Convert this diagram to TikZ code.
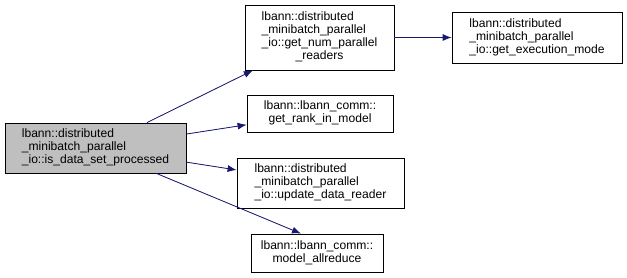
\documentclass[tikz,border=0pt]{standalone}
\usepackage{fontspec}
\setmainfont{Liberation Sans}
\usetikzlibrary{arrows.meta, positioning}
\definecolor{edgeblue}{HTML}{191970}
\definecolor{mainfill}{HTML}{BFBFBF}
% function label: left aligned rows, \crow centres one row
\newcommand{\fnlabel}[1]{\begin{tabular}{@{}l@{}}#1\end{tabular}}
\newcommand{\crow}[1]{\multicolumn{1}{@{}c@{}}{#1}}

\begin{document}
\begin{tikzpicture}[
    x=1pt, y=-1pt,
    >={Latex[length=9pt, width=7pt]},
    font=\fontsize{12.1}{13}\selectfont,
    fn/.style={draw=black, fill=white, line width=0.8pt, inner xsep=6pt, inner ysep=2pt},
    call/.style={->, draw=edgeblue, fill=edgeblue, line width=0.8pt}
]
    \useasboundingbox (0,0) rectangle (627,277);

    % Caller
    \node[fn, fill=mainfill, minimum width=181pt, minimum height=50pt] (processed) at (95.5,148)
        {\fnlabel{lbann::distributed\\\_minibatch\_parallel\\\_io::is\_data\_set\_processed}};

    % Callees
    \node[fn, minimum width=149pt, minimum height=65pt] (readers) at (319.5,37.5)
        {\fnlabel{lbann::distributed\\\_minibatch\_parallel\\\_io::get\_num\_parallel\\\crow{\_readers}}};
    \node[fn, minimum width=170pt, minimum height=51pt] (execmode) at (537,37.5)
        {\fnlabel{lbann::distributed\\\_minibatch\_parallel\\\_io::get\_execution\_mode}};
    \node[fn, minimum width=146pt, minimum height=37pt] (rank) at (320,113.5)
        {\fnlabel{\crow{lbann::lbann\_comm::}\\\crow{get\_rank\_in\_model}}};
    \node[fn, minimum width=167pt, minimum height=50pt] (update) at (320.5,183)
        {\fnlabel{lbann::distributed\\\_minibatch\_parallel\\\_io::update\_data\_reader}};
    \node[fn, minimum width=132pt, minimum height=38pt] (allreduce) at (317,253)
        {\fnlabel{\crow{lbann::lbann\_comm::}\\\crow{model\_allreduce}}};

    % Call edges
    \draw[call] (processed) -- (readers);
    \draw[call] (processed) -- (rank);
    \draw[call] (processed) -- (update);
    \draw[call] (processed) -- ([xshift=-16pt]allreduce.north);
    \draw[call] (readers) -- (execmode);
\end{tikzpicture}
\end{document}
